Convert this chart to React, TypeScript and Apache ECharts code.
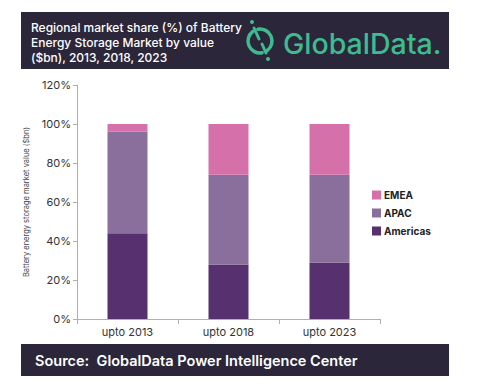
import React, { useEffect, useRef } from "react";
import * as echarts from "echarts";

const categories = ["upto 2013", "upto 2018", "upto 2023"];
const americas = [44, 28, 29];
const apac = [52, 46, 45];
const emea = [4, 26, 26];
const yTicks = [0, 20, 40, 60, 80, 100, 120];

const titleLines = [
  "Regional market share (%) of Battery",
  "Energy Storage Market by value",
  "($bn), 2013, 2018, 2023",
];
const sourceText = "Source:  GlobalData Power Intelligence Center";

export default function App() {
  const ref = useRef<HTMLDivElement>(null);
  useEffect(() => {
    if (!ref.current) return;
    const chart = echarts.init(ref.current, null, { renderer: "svg" });
    const navy = "#2b2639";
    const green = "#3dbd8f";
    const font = "Inter, 'Noto Sans', sans-serif";
    chart.setOption({
      animation: false,
      backgroundColor: "#ffffff",
      textStyle: { fontFamily: font },
      grid: { left: 77, right: 112, top: 85, bottom: 65 },
      legend: {
        orient: "vertical",
        left: 367,
        top: 185,
        itemWidth: 9,
        itemHeight: 9,
        itemGap: 8,
        icon: "rect",
        data: ["EMEA", "APAC", "Americas"],
        textStyle: { fontSize: 10, fontWeight: "bold", color: "#222", fontFamily: font, padding: [0, 0, 0, -2] },
      },
      xAxis: {
        type: "category",
        data: categories,
        axisLine: { lineStyle: { color: "#b0b0b0" } },
        axisTick: { show: true, lineStyle: { color: "#b0b0b0" }, length: 5 },
        axisLabel: { fontSize: 11, color: "#333", margin: 7, fontFamily: font },
      },
      yAxis: {
        type: "value",
        min: 0,
        max: 120,
        interval: 20,
        name: "Battery energy storage market value ($bn)",
        nameLocation: "middle",
        nameRotate: 90,
        nameGap: 45,
        nameTextStyle: { fontSize: 7.5, color: "#444", fontFamily: font },
        axisLine: { show: true, lineStyle: { color: "#b0b0b0" } },
        axisTick: { show: true, lineStyle: { color: "#b0b0b0" }, length: 4 },
        splitLine: { show: false },
        axisLabel: {
          fontSize: 11,
          color: "#333",
          margin: 6,
          fontFamily: font,
          formatter: (v: number) => (yTicks.includes(v) ? v + "%" : ""),
        },
      },
      series: [
        { name: "Americas", type: "bar", stack: "s", data: americas, barWidth: 40, itemStyle: { color: "#57306f" } },
        { name: "APAC", type: "bar", stack: "s", data: apac, barWidth: 40, itemStyle: { color: "#8a6f9c" } },
        { name: "EMEA", type: "bar", stack: "s", data: emea, barWidth: 40, itemStyle: { color: "#d670ab" } },
      ],
      graphic: [
        { type: "rect", shape: { x: 21, y: 12, width: 428, height: 57 }, style: { fill: navy } },
        ...titleLines.map((t, i) => ({
          type: "text",
          x: 31,
          y: 27 + i * 15,
          style: {
            text: t,
            fill: "#ffffff",
            fontSize: 12,
            fontWeight: 500,
            fontFamily: font,
            verticalAlign: "middle",
          },
        })),
        {
          type: "arc",
          shape: { cx: 260, cy: 41, r: 12, startAngle: (80 * Math.PI) / 180, endAngle: (232 * Math.PI) / 180, clockwise: true },
          style: { stroke: green, lineWidth: 3.5, fill: "none", lineCap: "round" },
        },
        {
          type: "arc",
          shape: { cx: 260, cy: 41, r: 12, startAngle: (260 * Math.PI) / 180, endAngle: (412 * Math.PI) / 180, clockwise: true },
          style: { stroke: green, lineWidth: 3.5, fill: "none", lineCap: "round" },
        },
        { type: "line", shape: { x1: 254, y1: 28, x2: 259, y2: 39 }, style: { stroke: green, lineWidth: 3, lineCap: "round" } },
        { type: "line", shape: { x1: 262, y1: 44, x2: 266, y2: 53 }, style: { stroke: green, lineWidth: 3, lineCap: "round" } },
        { type: "circle", shape: { cx: 252, cy: 22, r: 2 }, style: { fill: green } },
        { type: "circle", shape: { cx: 268, cy: 59, r: 2 }, style: { fill: green } },
        {
          type: "text",
          x: 283,
          y: 43,
          style: {
            text: "GlobalData.",
            fill: green,
            fontSize: 28.5,
            fontWeight: 500,
            fontFamily: font,
            verticalAlign: "middle",
          },
        },
        { type: "rect", shape: { x: 21, y: 344, width: 428, height: 32 }, style: { fill: navy } },
        {
          type: "text",
          x: 35,
          y: 360,
          style: {
            text: sourceText,
            fill: "#ffffff",
            fontSize: 14.5,
            fontWeight: 600,
            fontFamily: font,
            verticalAlign: "middle",
          },
        },
      ],
    });
    return () => chart.dispose();
  }, []);
  return (
    <div
      ref={ref}
      style={{ position: "fixed", left: 0, top: 0, width: 492, height: 384 }}
    />
  );
}
